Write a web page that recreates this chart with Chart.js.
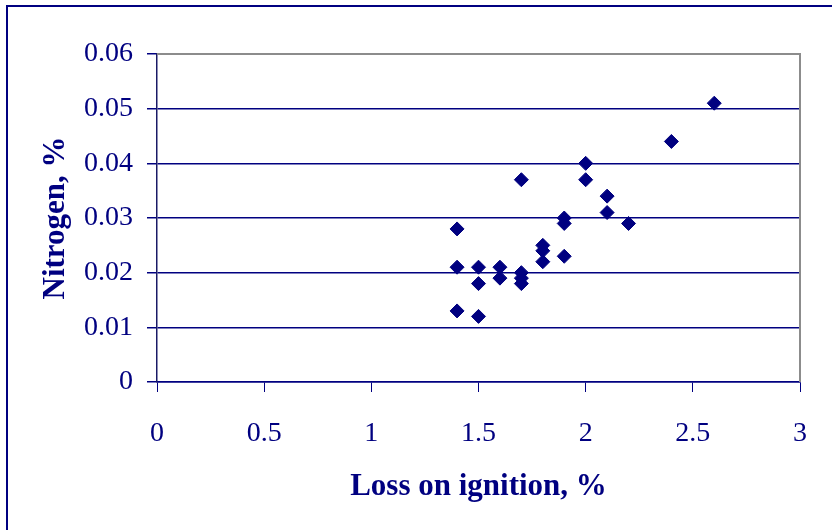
<!DOCTYPE html>
<html>
<head>
<meta charset="utf-8">
<script src="https://cdn.jsdelivr.net/npm/chart.js@4/dist/chart.umd.min.js"></script>
<style>
  html, body { margin: 0; padding: 0; background: #fff; overflow: hidden; }
  #wrap { position: relative; width: 832px; height: 530px; }
  #frame { position: absolute; left: 6px; top: 5px; width: 900px; height: 600px;
           border-left: 2px solid #000080; border-top: 2px solid #000080; pointer-events: none; }
  canvas { position: absolute; left: 0; top: 0; }
</style>
</head>
<body>
<div id="wrap">
  <canvas id="chart" width="832" height="530"></canvas>
  <div id="frame"></div>
</div>
<script>
// data
const lossOnIgnition = [1.4, 1.4, 1.4, 1.5, 1.5, 1.5, 1.6, 1.6, 1.7, 1.7, 1.7, 1.7,
                        1.8, 1.8, 1.8, 1.9, 1.9, 1.9, 2.0, 2.0, 2.1, 2.1, 2.2, 2.4, 2.6];
const nitrogen = [0.028, 0.021, 0.013, 0.021, 0.018, 0.012, 0.021, 0.019, 0.037, 0.020, 0.019, 0.018,
                  0.025, 0.024, 0.022, 0.030, 0.029, 0.023, 0.040, 0.037, 0.034, 0.031, 0.029, 0.044, 0.051];

const xTitle = 'Loss on ignition, %';
const yTitle = 'Nitrogen, %';

const navy = '#000080';
const points = lossOnIgnition.map((x, i) => ({ x: x, y: nitrogen[i] }));

// gray border on top and right of the plot area (like Excel)
const plotBorder = {
    id: 'plotBorder',
    beforeDatasetsDraw(chart) {
        const { ctx, chartArea: a } = chart;
        ctx.save();
        ctx.strokeStyle = '#8c8c8c';
        ctx.lineWidth = 2;
        ctx.beginPath();
        ctx.moveTo(a.left, a.top);
        ctx.lineTo(a.right, a.top);
        ctx.lineTo(a.right, a.bottom);
        ctx.stroke();
        ctx.restore();
    }
};

const tickFont = { family: '"Liberation Serif", "Times New Roman", serif', size: 28 };
const titleFont = { family: '"Liberation Serif", "Times New Roman", serif', size: 31, weight: 'bold' };

new Chart(document.getElementById('chart').getContext('2d'), {
    type: 'scatter',
    data: {
        datasets: [{
            data: points,
            pointStyle: 'rectRot',
            pointRadius: 7,
            pointHoverRadius: 7,
            backgroundColor: navy,
            borderColor: navy,
            borderWidth: 1
        }]
    },
    options: {
        responsive: false,
        animation: false,
        layout: { padding: { top: 54, right: 31, left: 0, bottom: 0 } },
        plugins: { legend: { display: false }, tooltip: { enabled: false } },
        scales: {
            x: {
                type: 'linear',
                min: 0, max: 3,
                afterFit: scale => { scale.height = 148; },
                ticks: { stepSize: 0.5, color: navy, font: tickFont, padding: 25, maxRotation: 0,
                         callback: v => String(Number(v.toFixed(2))) },
                grid: { drawOnChartArea: false, drawTicks: true, tickLength: 10, color: navy },
                border: { color: navy, width: 1.5 },
                title: { display: true, text: xTitle, color: navy, font: titleFont, padding: { bottom: 24 } }
            },
            y: {
                type: 'linear',
                min: 0, max: 0.06,
                afterFit: scale => { scale.width = 157; },
                ticks: { stepSize: 0.01, color: navy, font: tickFont, padding: 14,
                         callback: v => String(Number(v.toFixed(2))) },
                grid: { color: navy, lineWidth: 1.5, tickLength: 10 },
                border: { color: '#1a1a66', width: 1.5 },
                title: { display: true, text: yTitle, color: navy, font: titleFont, padding: { top: 37 } }
            }
        }
    },
    plugins: [plotBorder]
});
</script>
</body>
</html>
